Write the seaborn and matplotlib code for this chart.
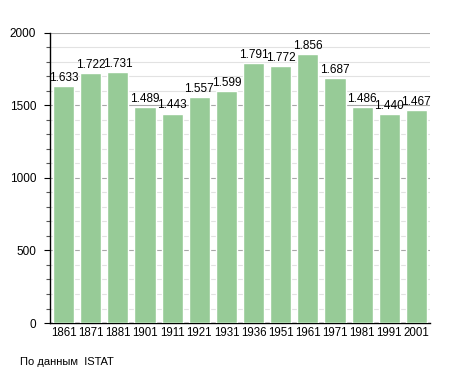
import pandas as pd
import matplotlib.pyplot as plt
import seaborn as sns
from matplotlib.ticker import MultipleLocator, FixedLocator

years = ["1861", "1871", "1881", "1901", "1911", "1921", "1931",
         "1936", "1951", "1961", "1971", "1981", "1991", "2001"]
population = [1633, 1722, 1731, 1489, 1443, 1557, 1599,
              1791, 1772, 1856, 1687, 1486, 1440, 1467]

df = pd.DataFrame({"year": years, "pop": population})

sns.set_style("white")
plt.rcParams["font.family"] = ["Liberation Sans", "DejaVu Sans"]
plt.rcParams["text.color"] = "black"
plt.rcParams["xtick.color"] = "black"
plt.rcParams["ytick.color"] = "black"

fig = plt.figure(figsize=(4.55, 3.73), dpi=100)
ax = fig.add_axes([0.11, 0.134, 0.835, 0.778])

sns.barplot(data=df, x="year", y="pop", color="#97cb97", width=0.78,
            saturation=1, ax=ax, zorder=3)

ax.set_ylim(0, 2000)
ax.yaxis.set_major_locator(MultipleLocator(500))
minors = [v for v in range(100, 2000, 100) if v % 500 != 0]
ax.yaxis.set_minor_locator(FixedLocator(minors))
ax.grid(axis="y", which="major", color="#a8a8a8", lw=0.8, ls="-", zorder=0)
ax.grid(axis="y", which="minor", color="#e2e2e2", lw=0.8, ls="-", zorder=0)
ax.set_axisbelow(True)

for s in ["top", "right"]:
    ax.spines[s].set_visible(False)
for s in ["left", "bottom"]:
    ax.spines[s].set_color("black")
    ax.spines[s].set_linewidth(1)

ax.tick_params(axis="y", which="major", length=4, width=0.8, color="black",
               labelsize=8.5, pad=6, left=True)
ax.tick_params(axis="y", which="minor", length=3, width=0.8, color="#555555",
               left=True)
ax.tick_params(axis="x", length=0, labelsize=8.3, pad=3)
ax.set_xlabel("")
ax.set_ylabel("")

for i, v in enumerate(population):
    ax.text(i, v + 15, f"{v/1000:.3f}", ha="center", va="bottom",
            fontsize=8.5, zorder=4)

fig.text(0.044, 0.03, "По данным  ISTAT", fontsize=8, ha="left", va="center")

fig.savefig("out.png", dpi=100)
